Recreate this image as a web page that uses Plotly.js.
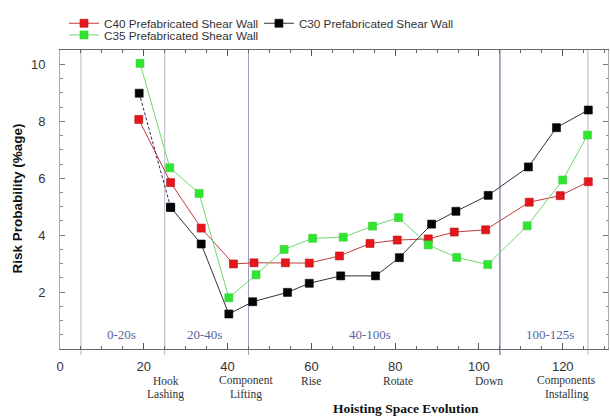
<!DOCTYPE html>
<html>
<head>
<meta charset="utf-8">
<script src="https://cdn.plot.ly/plotly-3.0.1.min.js"></script>
<style>html,body{margin:0;padding:0;background:#fff;}#chart{width:610px;height:417px;}</style>
</head>
<body>
<div id="chart"></div>
<script>
// ---- data ----
const seriesNames = ["C40 Prefabricated Shear Wall", "C30 Prefabricated Shear Wall", "C35 Prefabricated Shear Wall"];

const c40X = [18.8, 26.4, 33.7, 41.4, 46.3, 53.8, 59.5, 66.7, 74.0, 80.5, 87.9, 94.1, 101.6, 112.0, 119.4, 126.1];
const c40Y = [8.07, 5.85, 4.25, 2.99, 3.03, 3.03, 3.02, 3.27, 3.71, 3.83, 3.87, 4.11, 4.19, 5.16, 5.39, 5.88];

const c30X = [18.9, 26.4, 33.7, 40.3, 46.0, 54.3, 59.5, 67.0, 75.3, 81.0, 88.7, 94.5, 102.2, 111.8, 118.5, 126.1];
const c30Y = [8.99, 4.98, 3.69, 1.23, 1.66, 1.99, 2.31, 2.57, 2.57, 3.21, 4.39, 4.84, 5.40, 6.40, 7.78, 8.40];

const c35X = [19.1, 26.2, 33.2, 40.3, 46.8, 53.5, 60.3, 67.6, 74.6, 80.8, 87.9, 94.7, 102.1, 111.5, 120.0, 125.9];
const c35Y = [10.04, 6.37, 5.47, 1.80, 2.61, 3.50, 3.89, 3.93, 4.32, 4.62, 3.66, 3.22, 2.97, 4.33, 5.94, 7.52];

const xTickVals = [0, 20, 40, 60, 80, 100, 120];
const yTickVals = [2, 4, 6, 8, 10];

const boundaryX = [5, 25, 45, 105, 126];
const regionNames = ["0-20s", "20-40s", "40-100s", "100-125s"];
const regionX = [14.7, 34.5, 74, 117];

const stageNames = ["Hook Lashing", "Component Lifting", "Rise", "Rotate", "Down", "Components Installing"];
const stageX = [25.2, 44.5, 60, 80.6, 102.5, 121];

const xTitle = "Hoisting Space Evolution";
const yTitle = "Risk Probability (%age)";

// ---- styling ----
const XR = [0, 130.8];
const YR = [0, 10.51];
const sans = "Liberation Sans, Arial, sans-serif";
const serif = "Liberation Serif, Times New Roman, serif";

const traces = [
  {
    x: c40X, y: c40Y, name: seriesNames[0], mode: "lines+markers", legend: "legend",
    line: {color: "#c43a3a", width: 1},
    marker: {symbol: "square", size: 8, color: "#e5171d", line: {color: "#b51212", width: 0.6}}
  },
  {
    x: c30X.slice(1), y: c30Y.slice(1), name: seriesNames[1], mode: "lines+markers", legend: "legend3",
    line: {color: "#333333", width: 1},
    marker: {symbol: "square", size: 8, color: "#050505", line: {color: "#000", width: 0.6}}
  },
  {
    x: c30X.slice(0, 2), y: c30Y.slice(0, 2), name: seriesNames[1], mode: "lines+markers", showlegend: false,
    line: {color: "#2a2a55", width: 1, dash: "3px,2px"},
    marker: {symbol: "square", size: 8, color: "#050505", line: {color: "#000", width: 0.6}}
  },
  {
    x: c35X, y: c35Y, name: seriesNames[2], mode: "lines+markers", legend: "legend2",
    line: {color: "#6fd86f", width: 1},
    marker: {symbol: "square", size: 8, color: "#2fe52f", line: {color: "#3ccc3c", width: 0.6}}
  }
];

const shapes = boundaryX.map((bx, i) => ({
  type: "line", xref: "x", yref: "paper", x0: bx, x1: bx, y0: -0.02, y1: 1,
  layer: "below",
  line: {color: i === 3 ? "#7f84ad" : (i === 2 ? "#9a9dbd" : "#b3b5c9"), width: i === 3 ? 1.4 : 1}
}));

const annotations = [];
regionNames.forEach((t, i) => annotations.push({
  text: t, x: regionX[i], y: 0.5, xref: "x", yref: "y", showarrow: false,
  xanchor: "center", yanchor: "middle",
  font: {family: serif, size: 13, color: "#5c5f9e"}
}));
stageNames.forEach((t, i) => {
  const words = t.split(" ");
  words.forEach((w, j) => annotations.push({
    text: w, x: stageX[i], y: -0.1064 - j * 0.046, xref: "x", yref: "paper", showarrow: false,
    xanchor: "center", yanchor: "middle",
    font: {family: serif, size: 11.5, color: "#333"}
  }));
});
annotations.push({
  text: "<b>" + xTitle + "</b>", x: 0.631, y: -0.199, xref: "paper", yref: "paper", showarrow: false,
  xanchor: "center", yanchor: "middle",
  font: {family: serif, size: 13.5, color: "#111"}
});
annotations.push({
  text: "<b>" + yTitle + "</b>", x: -0.0776, y: 0.505, xref: "paper", yref: "paper", showarrow: false,
  xanchor: "center", yanchor: "middle", textangle: -90,
  font: {family: sans, size: 13.5, color: "#111"}
});

const legendBase = {
  orientation: "h", xref: "paper", xanchor: "left", yref: "container", yanchor: "top",
  font: {family: sans, size: 11.7, color: "#333"}, bgcolor: "rgba(0,0,0,0)", itemwidth: 30
};

const layout = {
  width: 610, height: 417,
  margin: {l: 60, r: 2, t: 50, b: 68},
  paper_bgcolor: "#fff", plot_bgcolor: "#fff",
  showlegend: true,
  legend: Object.assign({}, legendBase, {x: 0.0073, y: 0.979}),
  legend3: Object.assign({}, legendBase, {x: 0.363, y: 0.979}),
  legend2: Object.assign({}, legendBase, {x: 0.0073, y: 0.951}),
  xaxis: {
    range: XR, tickmode: "array", tickvals: xTickVals,
    ticks: "inside", ticklen: 6, tickwidth: 1, tickcolor: "#555",
    minor: {tickmode: "linear", tick0: 0, dtick: 5, ticks: "inside", ticklen: 3, tickcolor: "#666", showgrid: false},
    showline: true, linecolor: "#666", linewidth: 1.3, mirror: "ticks",
    showgrid: false, zeroline: false, ticklabelstandoff: 5,
    tickfont: {family: sans, size: 13, color: "#333"}
  },
  xaxis2: {
    range: XR, overlaying: "x", anchor: "y", side: "bottom",
    tickmode: "array", tickvals: xTickVals,
    ticks: "outside", ticklen: 4, tickwidth: 1, tickcolor: "#555",
    minor: {tickmode: "linear", tick0: 0, dtick: 5, ticks: "outside", ticklen: 2, tickcolor: "#666", showgrid: false},
    showticklabels: false, showline: false, showgrid: false, zeroline: false
  },
  yaxis: {
    range: YR, tickmode: "array", tickvals: yTickVals,
    ticks: "inside", ticklen: 5, tickwidth: 1, tickcolor: "#777",
    minor: {tickmode: "linear", tick0: 0, dtick: 0.5, ticks: "inside", ticklen: 2.5, tickcolor: "#888", showgrid: false},
    showline: true, linecolor: "#aaa", linewidth: 1, mirror: "ticks",
    showgrid: false, zeroline: false, ticklabelstandoff: 11,
    tickfont: {family: sans, size: 13, color: "#333"}
  },
  yaxis2: {
    range: YR, overlaying: "y", anchor: "x", side: "left",
    tickmode: "array", tickvals: yTickVals,
    ticks: "outside", ticklen: 6, tickwidth: 1, tickcolor: "#777",
    minor: {tickmode: "linear", tick0: 0, dtick: 0.5, ticks: "outside", ticklen: 2.5, tickcolor: "#888", showgrid: false},
    showticklabels: false, showline: false, showgrid: false, zeroline: false
  },
  shapes: shapes,
  annotations: annotations
};

Plotly.newPlot("chart", traces, layout, {displayModeBar: false, staticPlot: true});
</script>
</body>
</html>
